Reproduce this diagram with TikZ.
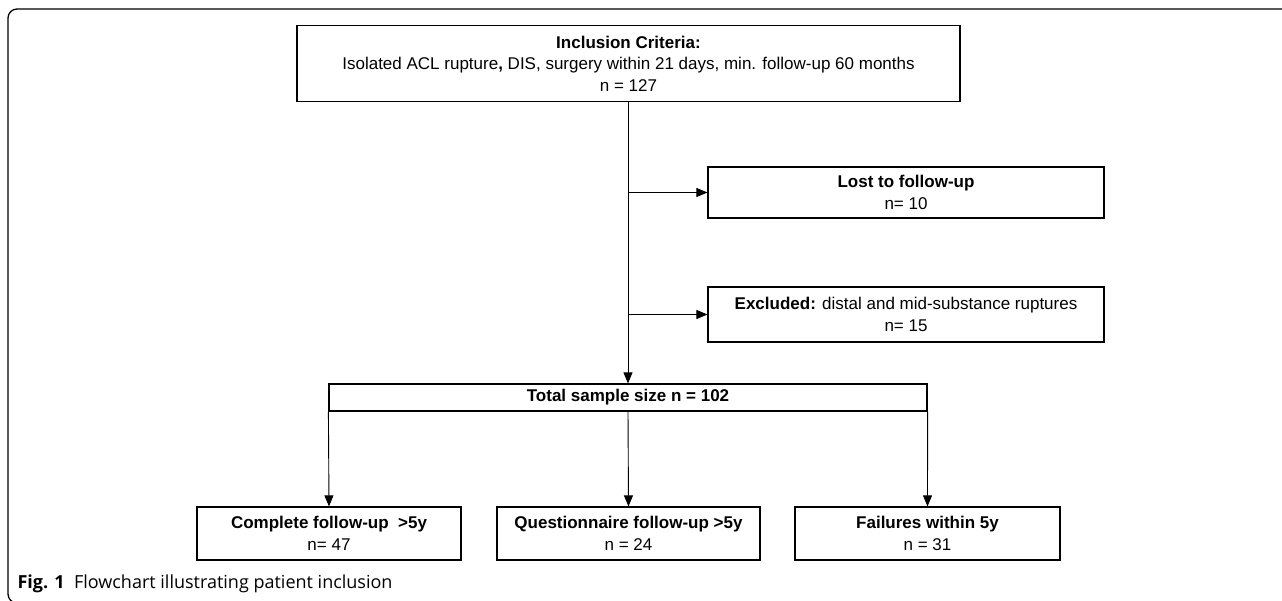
\documentclass[tikz,border=0pt]{standalone}
\usepackage{fontspec}
\setmainfont{Liberation Sans}
\newfontfamily\capfont{Open Sans}
\usepackage{tikz}
\usetikzlibrary{positioning,arrows.meta}

\tikzset{
  flowbox/.style={draw,line width=1.2pt,rectangle,align=center,inner sep=2pt,
    font=\fontsize{17}{21.5}\selectfont},
  flowarrow/.style={-{Triangle[length=11pt,width=9pt]},line width=0.9pt}
}

\begin{document}
\begin{tikzpicture}[x=1pt,y=-1pt]
\useasboundingbox (0,0) rectangle (1282,601);
\clip (0,0) rectangle (1282,601);
% frame
\draw[line width=1.3pt,rounded corners=9pt] (1300,9) -- (8,9) -- (8,603) -- (40,603);
% boxes
\node[flowbox,minimum width=663pt,minimum height=76pt] (incl) at (628.5,63.5)
  {\textbf{Inclusion Criteria:}\\Isolated ACL rupture\textbf{,} DIS, surgery within 21 days, min. follow-up 60 months\\n = 127};
\node[flowbox,minimum width=396pt,minimum height=51pt] (lost) at (906,192.5)
  {\textbf{Lost to follow-up}\\n= 10};
\node[flowbox,minimum width=396pt,minimum height=55pt] (excl) at (906,314.5)
  {\textbf{Excluded:} distal and mid-substance ruptures\\n= 15};
\node[flowbox,minimum width=598pt,minimum height=27pt] (total) at (628,397.5)
  {\textbf{Total sample size n = 102}};
\node[flowbox,minimum width=264pt,minimum height=53pt] (compl) at (329,533.5)
  {\textbf{Complete follow-up\ \ >5y}\\n= 47};
\node[flowbox,minimum width=263pt,minimum height=53pt] (quest) at (628.5,533.5)
  {\textbf{Questionnaire follow-up >5y}\\n = 24};
\node[flowbox,minimum width=265pt,minimum height=53pt] (fail) at (927.5,533.5)
  {\textbf{Failures within 5y}\\n = 31};
% connectors
\draw[flowarrow] (incl.south -| total.north) -- (total.north);
\draw[flowarrow] (lost.west -| total.north) -- (lost.west);
\draw[flowarrow] (excl.west -| total.north) -- (excl.west);
\draw[flowarrow] (total.south west) -- (compl.north);
\draw[flowarrow] (total.south) -- (quest.north);
\draw[flowarrow] (total.south east) -- (fail.north);
% caption
\node[anchor=west,font=\capfont\fontsize{18}{21}\selectfont] (cap) at (14,584)
  {\textbf{Fig. 1}\ \ Flowchart illustrating patient inclusion};
\end{tikzpicture}
\end{document}
